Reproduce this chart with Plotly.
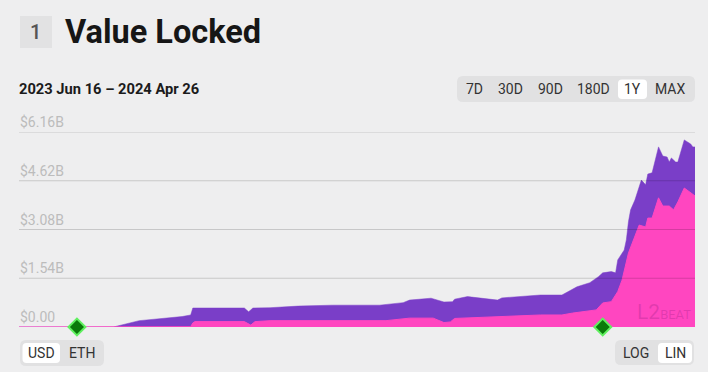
import plotly.graph_objects as go

W, H = 708, 372
L, R, T, B = 19, 695, 132, 327

TOTAL_DATES = ["2023-06-16","2023-07-30","2023-08-11","2023-08-31","2023-09-04","2023-09-05","2023-09-29","2023-10-01","2023-10-03","2023-10-11","2023-10-24","2023-11-09","2023-12-01","2023-12-12","2023-12-15","2023-12-25","2023-12-31","2024-01-04","2024-01-05","2024-01-11","2024-01-25","2024-01-27","2024-02-14","2024-02-24","2024-03-02","2024-03-08","2024-03-12","2024-03-14","2024-03-18","2024-03-20","2024-03-21","2024-03-24","2024-03-25","2024-03-26","2024-03-27","2024-03-29","2024-04-01","2024-04-03","2024-04-04","2024-04-06","2024-04-09","2024-04-11","2024-04-13","2024-04-14","2024-04-15","2024-04-17","2024-04-18","2024-04-21","2024-04-24","2024-04-25","2024-04-26"]
TOTAL_VALUES = [0,0,0.20,0.33,0.38,0.60,0.60,0.48,0.60,0.61,0.66,0.69,0.69,0.77,0.85,0.91,0.79,0.80,0.88,0.96,0.85,0.92,1.01,1.01,1.27,1.40,1.59,1.71,1.75,1.71,2.12,2.43,2.75,3.33,3.70,4.01,4.64,4.49,4.83,4.87,5.69,5.40,5.37,5.21,5.34,5.21,5.21,5.91,5.78,5.69,5.69]

STAKED_DATES = ["2023-06-16","2023-09-04","2023-09-05","2023-09-06","2023-09-29","2023-10-02","2023-10-04","2023-10-11","2023-12-04","2023-12-15","2023-12-26","2023-12-31","2024-01-03","2024-01-05","2024-02-14","2024-02-24","2024-02-29","2024-03-11","2024-03-14","2024-03-18","2024-03-21","2024-03-23","2024-03-26","2024-03-29","2024-03-31","2024-04-03","2024-04-04","2024-04-06","2024-04-09","2024-04-11","2024-04-14","2024-04-16","2024-04-18","2024-04-21","2024-04-24","2024-04-26"]
STAKED_VALUES = [0,0.01,0.13,0.17,0.17,0.06,0.17,0.20,0.20,0.28,0.28,0.14,0.16,0.27,0.38,0.38,0.44,0.54,0.76,0.80,1.12,1.48,2.34,2.84,3.22,3.16,3.44,3.44,4.08,3.82,3.82,3.70,3.95,4.39,4.23,4.14]

MILESTONE_DATES = ["2023-07-13","2024-03-14"]
MILESTONE_VALUES = [0,0]

Y_TICK_VALUES = [0,1.54,3.08,4.62,6.16]
Y_TICK_LABELS = ["$0.00","$1.54B","$3.08B","$4.62B","$6.16B"]
RANGE_LABELS = ["7D","30D","90D","180D","1Y","MAX"]
RANGE_CENTERS = [474,510,550,593,632,670]
UNIT_LABELS = ["USD","ETH"]
UNIT_CENTERS = [41,82]
SCALE_LABELS = ["LOG","LIN"]
SCALE_CENTERS = [636,675]

BG = "#eeeeef"
PURPLE = "#7a3ec8"
PINK = "#ff46c0"
FONT = "Roboto"
BTN_TEXT = "#333333"

def px(x):
    return (x - L) / (R - L)

def py(y):
    return (B - y) / (B - T)

def rrect(x0, y0, x1, y1, r, fill):
    a0, a1 = px(x0), px(x1)
    b0, b1 = py(y0), py(y1)
    rx, ry = r / (R - L), r / (B - T)
    path = (f"M{a0+rx},{b0} L{a1-rx},{b0} Q{a1},{b0} {a1},{b0-ry} "
            f"L{a1},{b1+ry} Q{a1},{b1} {a1-rx},{b1} L{a0+rx},{b1} "
            f"Q{a0},{b1} {a0},{b1+ry} L{a0},{b0-ry} Q{a0},{b0} {a0+rx},{b0} Z")
    return dict(type="path", path=path, xref="paper", yref="paper",
                fillcolor=fill, line=dict(width=0), layer="below")

def label(x, y, text, size=14, color=BTN_TEXT, anchor="center", weight=400, family=FONT):
    return dict(x=px(x), y=py(y), xref="paper", yref="paper", text=text, showarrow=False,
                xanchor=anchor, yanchor="middle", borderpad=0, xshift=0,
                font=dict(family=family, size=size, color=color, weight=weight))

fig = go.Figure()
fig.add_trace(go.Scatter(x=TOTAL_DATES, y=TOTAL_VALUES, mode="lines", fill="tozeroy",
                         fillcolor=PURPLE, line=dict(color=PURPLE, width=0.5), hoverinfo="skip"))
fig.add_trace(go.Scatter(x=STAKED_DATES, y=STAKED_VALUES, mode="lines", fill="tozeroy",
                         fillcolor=PINK, line=dict(color=PINK, width=1), hoverinfo="skip"))
fig.add_trace(go.Scatter(x=MILESTONE_DATES, y=MILESTONE_VALUES, mode="markers", cliponaxis=False,
                         marker=dict(symbol="diamond", size=13, color="#0a7a0a",
                                     line=dict(color="#5ff05f", width=2)), hoverinfo="skip"))

shapes = [dict(type="line", xref="paper", x0=0, x1=1, yref="y", y0=v, y1=v,
               line=dict(color="rgba(0,0,0,0.16)", width=1), layer="above")
          for v in Y_TICK_VALUES[1:]]
shapes += [
    rrect(20, 16, 52, 48, 0, "#e2e2e3"),
    rrect(457, 76, 695, 102, 6, "#e1e1e2"),
    rrect(618, 79.5, 647, 99, 4, "#ffffff"),
    rrect(20, 340, 104, 366, 6, "#e1e1e2"),
    rrect(22.5, 343, 60, 363, 4, "#ffffff"),
    rrect(615, 340, 694, 365, 6, "#e1e1e2"),
    rrect(658, 343, 692, 363, 4, "#ffffff"),
]

ann = [dict(x=0, y=v, xref="paper", yref="y", text=t, showarrow=False, xanchor="left",
            yanchor="middle", yshift=10, xshift=-1, font=dict(family=FONT, size=14, color="#bcbcbc"))
       for v, t in zip(Y_TICK_VALUES, Y_TICK_LABELS)]
ann += [label(35, 32, "1", size=20, color="#555555", weight=500),
        label(64, 32, "Value Locked", size=32.5, color="#161616", anchor="left", weight=700),
        label(18, 89, "2023 Jun 16 – 2024 Apr 26", size=14.7, color="#1b1b1b", anchor="left", weight=700),
        label(664, 312,
              "<span style='font-size:21px'>L2</span>BEAT",
              size=13, color="rgba(150,30,130,0.28)")]
for names, centers in ((RANGE_LABELS, RANGE_CENTERS), (UNIT_LABELS, UNIT_CENTERS), (SCALE_LABELS, SCALE_CENTERS)):
    ann += [label(c, 89 if names is RANGE_LABELS else 353, n) for n, c in zip(names, centers)]

fig.update_layout(
    width=W, height=H, autosize=False, showlegend=False,
    margin=dict(l=L, r=W - R, t=T, b=H - B, pad=0),
    paper_bgcolor=BG, plot_bgcolor=BG,
    xaxis=dict(type="date", range=["2023-06-16","2024-04-26"], visible=False, showgrid=False),
    yaxis=dict(range=[0, 6.16], visible=False, showgrid=False),
    shapes=shapes, annotations=ann,
)
fig.write_html("out.html", config={"displayModeBar": False},
               post_script=f"document.documentElement.style.background='{BG}';document.body.style.margin='0';document.body.style.overflow='hidden';")
